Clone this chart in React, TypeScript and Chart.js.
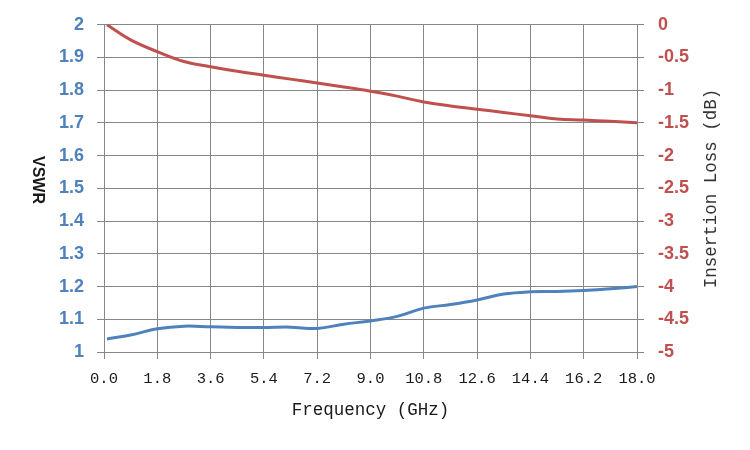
import { useEffect, useRef } from "react";
import { Chart, registerables, type Plugin } from "chart.js";

Chart.register(...registerables);

// frequency points (GHz)
const freqs = [0.1, 0.9, 1.8, 2.7, 3.6, 4.5, 5.4, 6.3, 7.2, 8.1, 9.0, 9.9, 10.8, 11.7, 12.6, 13.5, 14.4, 15.3, 16.2, 17.1, 18.0];
const vswr = [1.04, 1.052, 1.071, 1.079, 1.077, 1.075, 1.075, 1.076, 1.072, 1.085, 1.095, 1.109, 1.134, 1.145, 1.159, 1.177, 1.184, 1.185, 1.188, 1.193, 1.2];
const insertionLoss = [0, -0.23, -0.41, -0.56, -0.64, -0.71, -0.77, -0.83, -0.89, -0.95, -1.015, -1.09, -1.18, -1.24, -1.29, -1.34, -1.39, -1.44, -1.455, -1.475, -1.495];

const xTicks = [0, 1.8, 3.6, 5.4, 7.2, 9.0, 10.8, 12.6, 14.4, 16.2, 18.0];
const vswrTicks = [1, 1.1, 1.2, 1.3, 1.4, 1.5, 1.6, 1.7, 1.8, 1.9, 2];
const lossTicks = [-5, -4.5, -4, -3.5, -3, -2.5, -2, -1.5, -1, -0.5, 0];

const xTitle = "Frequency (GHz)";
const leftTitle = "VSWR";
const rightTitle = "Insertion Loss (dB)";

const BLUE = "#4F81BD";
const RED = "#C0504D";
const GRID = "#878787";
const MONO = "'Liberation Mono', monospace";
const SANS = "'Liberation Sans', Arial, sans-serif";

// axis titles are drawn by hand: the left one reads top-down, the right one bottom-up
const titlesPlugin: Plugin = {
  id: "axisTitles",
  afterDraw(chart) {
    const { ctx, chartArea } = chart;
    const midY = (chartArea.top + chartArea.bottom) / 2;
    ctx.save();
    ctx.fillStyle = "#1a1a1a";
    ctx.textAlign = "center";
    ctx.textBaseline = "middle";

    ctx.font = `17.5px ${MONO}`;
    ctx.fillText(xTitle, (chartArea.left + chartArea.right) / 2, 410);

    ctx.save();
    ctx.translate(37, 180);
    ctx.rotate(Math.PI / 2);
    ctx.font = `bold 16px ${SANS}`;
    ctx.fillText(leftTitle, 0, 0);
    ctx.restore();

    ctx.save();
    ctx.translate(711, midY);
    ctx.rotate(-Math.PI / 2);
    ctx.font = `17.5px ${MONO}`;
    ctx.fillStyle = "#333";
    ctx.fillText(rightTitle, 0, 0);
    ctx.restore();

    ctx.restore();
  },
};

export default function App() {
  const canvasRef = useRef<HTMLCanvasElement>(null);

  useEffect(() => {
    document.body.style.margin = "0";
    if (!canvasRef.current) return;
    const chart = new Chart(canvasRef.current, {
      type: "line",
      data: {
        datasets: [
          {
            label: "VSWR",
            data: freqs.map((f, i) => ({ x: f, y: vswr[i] })),
            borderColor: BLUE,
            borderWidth: 3,
            pointRadius: 0,
            tension: 0.4,
            yAxisID: "y",
          },
          {
            label: "Insertion Loss",
            data: freqs.map((f, i) => ({ x: f, y: insertionLoss[i] })),
            borderColor: RED,
            borderWidth: 3,
            pointRadius: 0,
            tension: 0.4,
            yAxisID: "y1",
          },
        ],
      },
      options: {
        responsive: false,
        animation: false,
        layout: { padding: { top: 23, left: 0, right: 0, bottom: 0 } },
        plugins: { legend: { display: false }, tooltip: { enabled: false } },
        scales: {
          x: {
            type: "linear",
            min: 0,
            max: 18,
            afterBuildTicks: (s) => {
              s.ticks = xTicks.map((v) => ({ value: v }));
            },
            afterFit: (s) => {
              s.height = 98;
            },
            ticks: {
              color: "#1a1a1a",
              font: { family: MONO, size: 15.5 },
              padding: 11,
              maxRotation: 0,
              callback: (v) => Number(v).toFixed(1),
            },
            grid: { color: GRID, lineWidth: 1, tickLength: 7 },
            border: { color: GRID },
          },
          y: {
            position: "left",
            min: 1,
            max: 2,
            afterBuildTicks: (s) => {
              s.ticks = vswrTicks.map((v) => ({ value: v }));
            },
            afterFit: (s) => {
              s.width = 104;
            },
            ticks: {
              color: BLUE,
              font: { family: SANS, size: 18, weight: "bold" },
              padding: 13,
              callback: (v) => String(Math.round(Number(v) * 10) / 10),
            },
            grid: { color: GRID, lineWidth: 1, tickLength: 7 },
            border: { color: GRID },
          },
          y1: {
            position: "right",
            min: -5,
            max: 0,
            afterBuildTicks: (s) => {
              s.ticks = lossTicks.map((v) => ({ value: v }));
            },
            afterFit: (s) => {
              s.width = 113;
            },
            ticks: {
              color: RED,
              font: { family: SANS, size: 18, weight: "bold" },
              padding: 14,
              callback: (v) => String(Number(v)),
            },
            grid: { color: GRID, lineWidth: 1, tickLength: 7, drawOnChartArea: false },
            border: { color: GRID },
          },
        },
      },
      plugins: [titlesPlugin],
    });
    return () => chart.destroy();
  }, []);

  return (
    <div style={{ width: 750, height: 450, background: "#fff" }}>
      <canvas ref={canvasRef} width={750} height={450} />
    </div>
  );
}
